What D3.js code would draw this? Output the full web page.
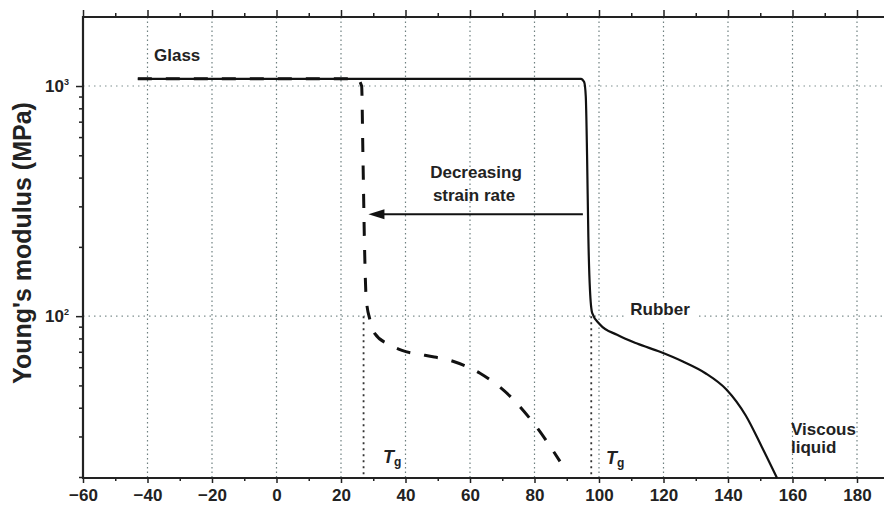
<!DOCTYPE html>
<html>
<head>
<meta charset="utf-8">
<script src="https://cdn.jsdelivr.net/npm/d3@7"></script>
<style>
  body { margin: 0; background: #fff; }
  svg { display: block; }
  text { font-family: "Liberation Sans", Arial, sans-serif; font-weight: bold; fill: #222; }
</style>
</head>
<body>
<svg id="chart" width="884" height="509"></svg>
<script>
// temperature (°C) / modulus (MPa)
var fastT = [-43, 94.4, 95.4, 95.9, 96.3, 96.7, 97.2, 97.9, 100.3, 105.6, 111.8, 118.9, 126, 133, 139.5, 145.5, 150.5, 155.2];
var fastE = [1075, 1075, 1040, 900, 500, 220, 130, 103, 92, 83, 76, 70, 63.5, 56.5, 48, 37, 27, 19.8];
var slowT = [-43, 25.0, 26.4, 26.8, 27.3, 27.8, 29.0, 30.5, 35.2, 38.9, 46.0, 54.7, 63.1, 72.4, 80.2, 87.9];
var slowE = [1075, 1075, 1000, 500, 200, 120, 96, 84, 75, 71, 67.6, 63.7, 56.5, 44.9, 33.6, 23.4];
var tgValues = [27, 97.6];
var arrowT = [95, 28.5];
var arrowE = 277;

var xTicks = [-60, -40, -20, 0, 20, 40, 60, 80, 100, 120, 140, 160, 180];
var xMinor = [-50, -30, -10, 10, 30, 50, 70, 90, 110, 130, 150, 170, 190];
var yTicks = [100, 1000];
var yTickExp = ['2', '3'];
var yMinor = [20, 30, 40, 50, 60, 70, 80, 90, 200, 300, 400, 500, 600, 700, 800, 900];

var svg = d3.select('#chart');
var plot = { left: 83, top: 17, bottom: 478 };

var x = d3.scaleLinear().domain([-60, 190]).range([plot.left, plot.left + 250 * 3.225]);
var y = d3.scaleLog().domain([19.8, 1995]).range([plot.bottom, plot.top]);
plot.right = x(190);

// grid
var grid = svg.append('g');
grid.selectAll('line.v')
  .data(xTicks.slice(1))
  .enter().append('line')
  .attr('x1', function (d) { return x(d); })
  .attr('x2', function (d) { return x(d); })
  .attr('y1', plot.top)
  .attr('y2', plot.bottom)
  .attr('stroke', '#6f8080')
  .attr('stroke-width', 1.2)
  .attr('stroke-dasharray', '1.5,3');
grid.selectAll('line.h')
  .data(yTicks)
  .enter().append('line')
  .attr('x1', plot.left)
  .attr('x2', plot.right)
  .attr('y1', function (d) { return y(d); })
  .attr('y2', function (d) { return y(d); })
  .attr('stroke', '#7f9090')
  .attr('stroke-width', 1.2)
  .attr('stroke-dasharray', '1.5,4');

// Tg markers
grid.selectAll('line.tg')
  .data(tgValues)
  .enter().append('line')
  .attr('x1', function (d) { return x(d); })
  .attr('x2', function (d) { return x(d); })
  .attr('y1', y(100))
  .attr('y2', plot.bottom)
  .attr('stroke', '#333')
  .attr('stroke-width', 1.8)
  .attr('stroke-dasharray', '2,4');

// axes
function styleAxis(g) {
  g.select('.domain').remove();
  g.selectAll('.tick line').attr('stroke', '#222').attr('stroke-width', 1.5);
  g.selectAll('.tick text')
    .attr('font-size', 17)
    .attr('font-family', '"Liberation Sans", Arial, sans-serif')
    .attr('font-weight', 'bold')
    .attr('fill', '#222');
}

svg.append('g')
  .attr('transform', 'translate(0,' + plot.bottom + ')')
  .call(d3.axisBottom(x).tickValues(xTicks).tickSize(5).tickPadding(6)
    .tickFormat(function (d) { return d < 0 ? '\u2212' + Math.abs(d) : d; }))
  .call(styleAxis);
svg.append('g')
  .attr('transform', 'translate(0,' + plot.bottom + ')')
  .call(d3.axisBottom(x).tickValues(xMinor).tickSize(3).tickFormat(''))
  .call(styleAxis);
svg.append('g')
  .attr('transform', 'translate(0,' + plot.top + ')')
  .call(d3.axisTop(x).tickValues(xTicks).tickSize(7).tickFormat(''))
  .call(styleAxis);
svg.append('g')
  .attr('transform', 'translate(0,' + plot.top + ')')
  .call(d3.axisTop(x).tickValues(xMinor).tickSize(4).tickFormat(''))
  .call(styleAxis);

var yAxis = svg.append('g')
  .attr('transform', 'translate(' + plot.left + ',0)')
  .call(d3.axisLeft(y).tickValues(yTicks).tickSize(7).tickPadding(10).tickFormat(function () { return '10'; }))
  .call(styleAxis);
yAxis.selectAll('.tick text')
  .attr('dx', 3)
  .append('tspan')
  .attr('font-size', 9)
  .attr('dy', -7)
  .text(function (d, i) { return yTickExp[i]; });
svg.append('g')
  .attr('transform', 'translate(' + plot.left + ',0)')
  .call(d3.axisLeft(y).tickValues(yMinor).tickSize(4).tickFormat(''))
  .call(styleAxis);

// frame lines
svg.append('path')
  .attr('d', 'M' + plot.right + ',' + plot.top + 'H' + plot.left + 'V' + plot.bottom + 'H' + plot.right)
  .attr('fill', 'none')
  .attr('stroke', '#222')
  .attr('stroke-width', 2.2);

// curves
var line = d3.line()
  .x(function (d) { return x(d[0]); })
  .y(function (d) { return y(d[1]); })
  .curve(d3.curveMonotoneX);

svg.append('path')
  .datum(d3.zip(fastT, fastE))
  .attr('d', line)
  .attr('fill', 'none')
  .attr('stroke', '#111')
  .attr('stroke-width', 2.2);

svg.append('path')
  .datum(d3.zip(slowT, slowE))
  .attr('d', line)
  .attr('fill', 'none')
  .attr('stroke', '#111')
  .attr('stroke-width', 3)
  .attr('stroke-dasharray', '14,14');

// arrow
var ax0 = x(arrowT[0]), ax1 = x(arrowT[1]), ay = y(arrowE);
svg.append('line')
  .attr('x1', ax0)
  .attr('x2', ax1 + 12)
  .attr('y1', ay)
  .attr('y2', ay)
  .attr('stroke', '#111')
  .attr('stroke-width', 2);
svg.append('path')
  .attr('d', 'M' + ax1 + ',' + ay + 'L' + (ax1 + 16) + ',' + (ay - 5) + 'L' + (ax1 + 16) + ',' + (ay + 5) + 'Z')
  .attr('fill', '#111');

// labels
function label(txt, xv, yp, anchor) {
  return svg.append('text')
    .attr('x', xv)
    .attr('y', yp)
    .attr('text-anchor', anchor || 'start')
    .attr('font-size', 17)
    .text(txt);
}
label('Glass', 154, 61);
label('Decreasing', 476, 178, 'middle');
label('strain rate', 474, 201, 'middle');
svg.append('rect')
  .attr('x', 624).attr('y', 300).attr('width', 72).attr('height', 20)
  .attr('fill', '#fff');
label('Rubber', 660, 315, 'middle');
label('Viscous', 791, 435);
label('liquid', 791, 453);

[[383, 463], [606, 464]].forEach(function (p) {
  var t = svg.append('text')
    .attr('x', p[0])
    .attr('y', p[1])
    .attr('font-size', 18)
    .attr('font-style', 'italic')
    .text('T');
  t.append('tspan')
    .attr('font-size', 12)
    .attr('font-style', 'normal')
    .attr('dy', 3)
    .text('g');
});

svg.append('text')
  .attr('transform', 'translate(31,243) rotate(-90)')
  .attr('text-anchor', 'middle')
  .attr('font-size', 25)
  .text("Young's modulus (MPa)");
</script>
</body>
</html>
